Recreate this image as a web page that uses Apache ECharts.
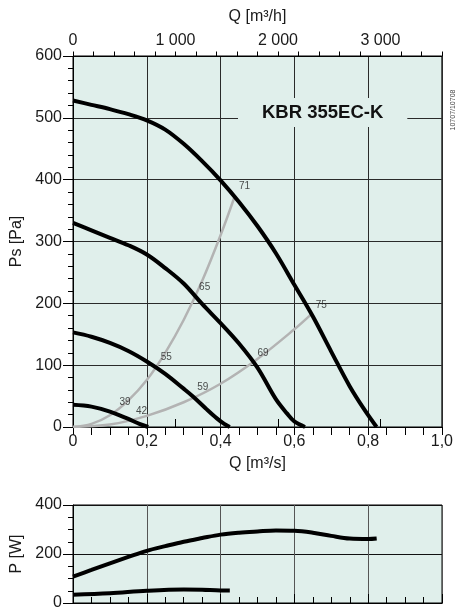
<!DOCTYPE html>
<html>
<head>
<meta charset="utf-8">
<script src="https://cdn.jsdelivr.net/npm/echarts@6/dist/echarts.min.js"></script>
<style>
html,body{margin:0;padding:0;background:#fff;}
#c{width:456px;height:614px;}
</style>
</head>
<body>
<div id="c"></div>
<script>
// ---- data (Q in m³/s, Ps in Pa, P in W) ----
const curve1 = [[0,528],[0.05,521],[0.1,514],[0.15,506],[0.2,496],[0.25,481],[0.3,458],[0.35,430],[0.4,399],[0.45,364],[0.5,325],[0.55,281],[0.6,230],[0.65,179],[0.7,122],[0.75,66],[0.79,28],[0.823,0]];
const curve2 = [[0,330],[0.05,318],[0.1,306],[0.15,294],[0.2,279],[0.25,257],[0.3,232],[0.35,199],[0.4,168],[0.45,135],[0.5,96],[0.55,45],[0.58,22],[0.6,9],[0.629,0]];
const curve3 = [[0,153],[0.05,146],[0.1,136],[0.15,123],[0.2,106],[0.25,86],[0.3,62],[0.326,49],[0.36,30],[0.39,14],[0.41,5],[0.425,0]];
const curve4 = [[0,36],[0.05,33],[0.1,25],[0.15,13],[0.18,5],[0.204,0]];
const systemA = [[0,0],[0.05,5],[0.1,19],[0.15,43],[0.2,76],[0.25,120],[0.3,173],[0.35,236],[0.4,310],[0.439,374]];
const systemB = [[0,0],[0.1,4],[0.2,18],[0.3,40],[0.4,70],[0.5,110],[0.6,158],[0.647,183]];
const soundLabels = [['39',0.115,25],['42',0.16,11],['55',0.227,98],['59',0.326,49],['65',0.331,211],['69',0.489,104],['71',0.439,374],['75',0.647,183]];
const power1 = [[0,108],[0.05,135],[0.1,162],[0.15,188],[0.2,213],[0.25,232],[0.3,250],[0.35,265],[0.4,279],[0.45,287],[0.5,292],[0.55,296],[0.6,295],[0.65,287],[0.7,274],[0.75,263],[0.8,261],[0.823,263]];
const power2 = [[0,34],[0.1,40],[0.2,50],[0.3,55],[0.35,54],[0.4,51],[0.425,51]];
const modelName = 'KBR 355EC-K';
const docCode = '10707/10708';

const BG = '#e0efeb';
const FONT = 'Liberation Sans, Arial, sans-serif';
const TXT = '#1a1a1a';

const chart = echarts.init(document.getElementById('c'), null, {renderer:'canvas'});

function blackLine(data, xi, yi){
  return {type:'line', xAxisIndex:xi, yAxisIndex:yi, data:data, showSymbol:false, symbol:'none',
    smooth:0.35, lineStyle:{color:'#000', width:4}, z:4, silent:true};
}
function grayLine(data){
  return {type:'line', xAxisIndex:0, yAxisIndex:0, data:data, showSymbol:false, symbol:'none',
    smooth:0.35, lineStyle:{color:'#b3b3b3', width:2.5}, z:3, silent:true};
}

const option = {
  animation:false,
  textStyle:{fontFamily:FONT},
  title:{
    text:modelName, left:238, top:98, padding:[5,24],
    backgroundColor:BG,
    textStyle:{fontSize:18.5, fontWeight:'bold', color:'#111', fontFamily:FONT, lineHeight:19}
  },
  graphic:[{
    type:'text', x:453, y:110, rotation:Math.PI/2,
    style:{text:docCode, fontSize:7, fontFamily:FONT, fill:'#444', align:'center', verticalAlign:'middle'}
  }],
  grid:[
    {left:73, top:56, width:369, height:371, show:true, backgroundColor:BG, borderColor:'#000', borderWidth:1},
    {left:73, top:56, width:369, height:371, show:false},
    {left:73, top:505, width:369, height:98, show:true, backgroundColor:BG, borderColor:'#000', borderWidth:1}
  ],
  xAxis:[
    { // bottom Q m3/s
      gridIndex:0, type:'value', position:'bottom', min:0, max:1, interval:0.2,
      name:'Q [m³/s]', nameLocation:'middle', nameGap:29,
      nameTextStyle:{fontSize:16, color:TXT, fontFamily:FONT},
      axisLine:{lineStyle:{color:'#000', width:1}},
      axisTick:{show:true, inside:false, length:8, lineStyle:{color:'#000'}},
      minorTick:{show:true, splitNumber:4, length:8, lineStyle:{color:'#000'}},
      axisLabel:{fontSize:16, color:TXT, margin:7, fontFamily:FONT,
        formatter:v => v===0 ? '0' : v.toFixed(1).replace('.',',')},
      splitLine:{show:true, lineStyle:{color:'#2a2a2a', width:1}}
    },
    { // top m3/h minor ticks
      gridIndex:0, type:'value', position:'top', min:0, max:3600, interval:200,
      axisLine:{lineStyle:{color:'#000'}},
      axisTick:{show:true, length:4.5, lineStyle:{color:'#000'}},
      axisLabel:{show:false}, splitLine:{show:false}
    },
    { // top m3/h major ticks + labels
      gridIndex:1, type:'value', position:'top', min:0, max:3600, interval:1000,
      name:'Q [m³/h]', nameLocation:'middle', nameGap:31,
      nameTextStyle:{fontSize:16, color:TXT, fontFamily:FONT},
      axisLine:{show:true, lineStyle:{color:'#000'}},
      axisTick:{show:true, length:8, lineStyle:{color:'#000'}},
      axisLabel:{fontSize:16, color:TXT, margin:7, fontFamily:FONT, showMaxLabel:false,
        formatter:v => v===0 ? '0' : (v/1000) + ' 000'},
      splitLine:{show:false}
    },
    { // power chart top
      gridIndex:2, type:'value', position:'top', min:0, max:1, interval:0.2,
      axisLine:{lineStyle:{color:'#000'}},
      axisTick:{show:true, length:9, lineStyle:{color:'#000'}},
      minorTick:{show:true, splitNumber:4, length:6, lineStyle:{color:'#000'}},
      axisLabel:{show:false},
      splitLine:{show:true, lineStyle:{color:'#555', width:1}}
    },
    { // power chart bottom
      gridIndex:2, type:'value', position:'bottom', min:0, max:1, interval:0.2,
      axisLine:{lineStyle:{color:'#000'}}, axisTick:{show:false}, axisLabel:{show:false}, splitLine:{show:false}
    }
  ],
  yAxis:[
    {
      gridIndex:0, type:'value', min:0, max:600, interval:100, position:'left',
      name:'Ps [Pa]', nameLocation:'middle', nameGap:46,
      nameTextStyle:{fontSize:16, color:TXT, fontFamily:FONT},
      axisLine:{show:true, lineStyle:{color:'#000'}},
      axisTick:{show:true, length:10, lineStyle:{color:'#000'}},
      minorTick:{show:true, splitNumber:5, length:5, lineStyle:{color:'#000'}},
      axisLabel:{fontSize:16, color:TXT, margin:11, fontFamily:FONT},
      splitLine:{show:true, lineStyle:{color:'#2a2a2a', width:1}}
    },
    {gridIndex:1, type:'value', min:0, max:600, show:false},
    {
      gridIndex:2, type:'value', min:0, max:400, interval:200, position:'left',
      name:'P [W]', nameLocation:'middle', nameGap:46,
      nameTextStyle:{fontSize:16, color:TXT, fontFamily:FONT},
      axisLine:{show:true, lineStyle:{color:'#000'}},
      axisTick:{show:true, length:10, lineStyle:{color:'#000'}},
      minorTick:{show:true, splitNumber:4, length:5, lineStyle:{color:'#000'}},
      axisLabel:{fontSize:16, color:TXT, margin:11, fontFamily:FONT},
      splitLine:{show:true, lineStyle:{color:'#111', width:1}}
    }
  ],
  series:[
    grayLine(systemA),
    grayLine(systemB),
    blackLine(curve1,0,0),
    blackLine(curve2,0,0),
    blackLine(curve3,0,0),
    blackLine(curve4,0,0),
    {
      type:'scatter', xAxisIndex:0, yAxisIndex:0, symbolSize:0, z:6, silent:true,
      data:soundLabels.map(p => ({name:p[0], value:[p[1], p[2]]})),
      label:{show:true, position:'right', distance:4, offset:[0,-9], formatter:'{b}',
        fontSize:10, color:'#222', fontFamily:FONT}
    },
    blackLine(power1,3,2),
    blackLine(power2,3,2)
  ]
};
chart.setOption(option);
</script>
</body>
</html>
